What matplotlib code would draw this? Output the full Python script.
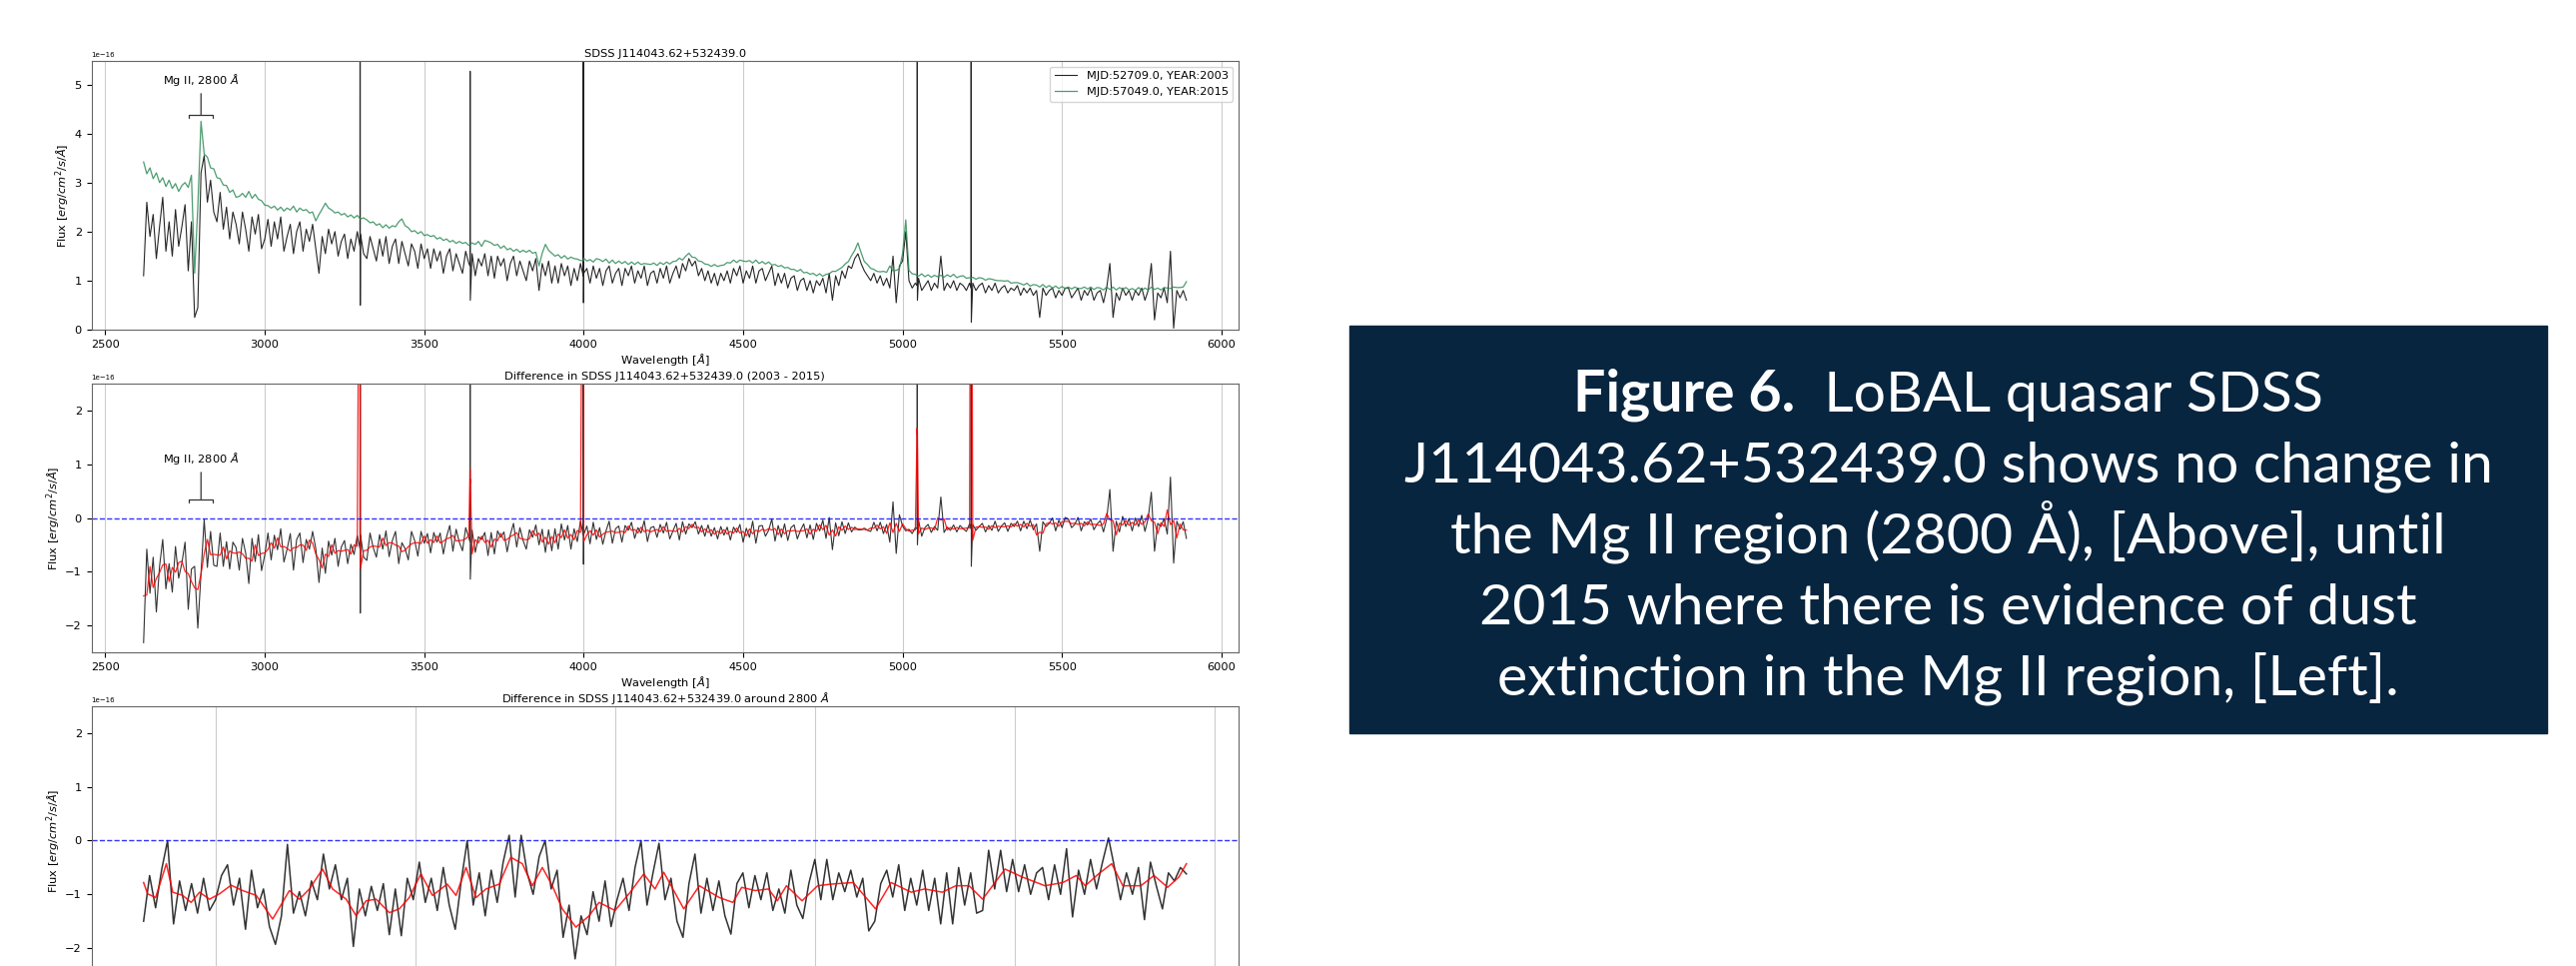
import numpy as np
import pandas as pd
import matplotlib
matplotlib.use("Agg")
import matplotlib.pyplot as plt
from matplotlib.patches import Rectangle

# Spectra of SDSS J114043.62+532439.0 (flux in 1e-16 erg/cm2/s/A)
# 10 A grid from 2620 to 5890 A
wave_grid = np.arange(2620, 5891, 10)

flux_2015 = [
    3.42, 3.18, 3.3, 3.08, 3.2, 3.0, 3.1, 2.92, 3.05, 2.88,
    2.98, 2.82, 2.94, 3.0, 2.9, 3.15, 1.15, 2.5, 4.25, 3.58,
    3.52, 3.3, 3.28, 3.1, 3.08, 2.95, 2.94, 2.8, 2.85, 2.7,
    2.72, 2.78, 2.7, 2.82, 2.68, 2.76, 2.66, 2.63, 2.54, 2.53,
    2.48, 2.52, 2.44, 2.5, 2.42, 2.48, 2.44, 2.52, 2.4, 2.48,
    2.43, 2.45, 2.38, 2.4, 2.22, 2.35, 2.46, 2.58, 2.48, 2.44,
    2.38, 2.4, 2.34, 2.37, 2.3, 2.34, 2.28, 2.33, 2.26, 2.28,
    2.24, 2.18, 2.2, 2.13, 2.16, 2.08, 2.14, 2.07, 2.12, 2.1,
    2.2, 2.26, 2.12, 2.08, 2.0, 2.02, 1.96, 2.0, 1.92, 1.94,
    1.9, 1.92, 1.85, 1.88, 1.82, 1.85, 1.79, 1.82, 1.76, 1.8,
    1.76, 1.78, 1.72, 1.77, 1.74, 1.8, 1.7, 1.82, 1.8, 1.77,
    1.72, 1.74, 1.66, 1.71, 1.63, 1.66, 1.6, 1.64, 1.58, 1.62,
    1.58, 1.62, 1.56, 1.58, 1.3, 1.56, 1.74, 1.62, 1.56, 1.5,
    1.53, 1.46, 1.51, 1.44, 1.48, 1.45, 1.44, 1.41, 1.46, 1.4,
    1.43, 1.38, 1.45, 1.43, 1.39, 1.44, 1.36, 1.42, 1.35, 1.4,
    1.35, 1.39, 1.33, 1.38, 1.33, 1.38, 1.33, 1.35, 1.34, 1.33,
    1.36, 1.31, 1.37, 1.33, 1.38, 1.34, 1.39, 1.4, 1.46, 1.42,
    1.5, 1.56, 1.48, 1.47, 1.4, 1.39, 1.34, 1.33, 1.29, 1.33,
    1.29, 1.31, 1.32, 1.37, 1.36, 1.42, 1.37, 1.42, 1.4, 1.39,
    1.41, 1.36, 1.42, 1.35, 1.39, 1.34, 1.38, 1.32, 1.33, 1.29,
    1.31, 1.26, 1.27, 1.23, 1.23, 1.19, 1.23, 1.16, 1.17, 1.13,
    1.15, 1.1, 1.14, 1.09, 1.13, 1.14, 1.19, 1.19, 1.23, 1.27,
    1.34, 1.39, 1.51, 1.62, 1.77, 1.57, 1.39, 1.33, 1.25, 1.23,
    1.19, 1.18, 1.19, 1.17, 1.3, 1.2, 1.21, 1.24, 1.55, 2.24,
    1.21, 1.14, 1.13, 1.09, 1.14, 1.08, 1.12, 1.07, 1.11, 1.08,
    1.11, 1.07, 1.12, 1.08, 1.13, 1.06, 1.09, 1.1, 1.05, 1.06,
    1.07, 1.03, 1.06, 1.05, 1.01, 1.04, 1.03, 1.01, 1.0, 1.0,
    0.99, 1.0, 0.95, 0.96, 0.96, 0.94, 0.91, 0.95, 0.89, 0.92,
    0.91, 0.87, 0.92, 0.86, 0.9, 0.85, 0.89, 0.84, 0.88, 0.84,
    0.87, 0.83, 0.87, 0.84, 0.84, 0.87, 0.83, 0.87, 0.82, 0.86,
    0.85, 0.81, 0.87, 0.82, 0.87, 0.81, 0.86, 0.82, 0.86, 0.81,
    0.84, 0.8, 0.86, 0.8, 0.85, 0.81, 0.87, 0.82, 0.85, 0.81,
    0.86, 0.85, 0.84, 0.87, 0.86, 0.86, 0.87, 0.98,
]

flux_2003 = [
    1.1, 2.6, 1.9, 2.35, 1.45, 2.1, 2.7, 1.6, 2.2, 1.5,
    2.45, 1.7, 2.1, 2.55, 1.2, 2.2, 0.25, 0.45, 3.2, 3.55,
    2.6, 3.05, 2.4, 2.2, 2.8, 2.05, 2.5, 1.85, 2.4, 2.15,
    1.75, 2.4, 2.05, 1.6, 2.3, 1.95, 2.35, 1.65, 1.85, 2.25,
    1.7, 2.2, 1.85, 2.3, 1.6, 1.9, 2.15, 1.55, 2.0, 2.2,
    1.6, 2.05, 1.8, 2.15, 1.65, 1.15, 1.9, 1.55, 2.05, 1.75,
    2.0, 1.5, 1.8, 1.95, 1.45, 1.85, 1.6, 2.0, 1.95, 1.55,
    1.45, 1.9, 1.65, 1.4, 1.85, 1.5, 1.9, 1.35, 1.7, 1.85,
    1.35, 1.8, 1.55, 1.3, 1.75, 1.6, 1.25, 1.75, 1.45, 1.65,
    1.25, 1.65, 1.4, 1.6, 1.15, 1.5, 1.65, 1.2, 1.55, 1.35,
    1.15, 1.6, 1.35, 1.55, 1.1, 1.45, 1.3, 1.55, 1.1, 1.5,
    1.05, 1.5, 1.3, 1.45, 1.0, 1.35, 1.5, 1.1, 1.4, 1.2,
    1.0, 1.4, 1.2, 1.45, 0.8, 1.35, 1.1, 1.4, 0.95, 1.3,
    0.95, 1.35, 1.1, 1.3, 0.9, 1.25, 1.0, 1.35, 1.15, 1.25,
    0.95, 1.3, 1.05, 1.25, 0.9, 1.2, 1.3, 0.95, 1.15, 1.25,
    0.9, 1.25, 1.1, 1.3, 0.95, 1.2, 1.05, 1.3, 0.9, 1.15,
    1.2, 0.95, 1.25, 1.05, 1.3, 0.95, 1.15, 1.3, 1.05, 1.35,
    1.2, 1.45, 1.3, 1.4, 1.1, 1.25, 1.0, 1.2, 0.95, 1.15,
    0.9, 1.15, 1.0, 1.2, 0.95, 1.25, 1.1, 1.3, 0.95, 1.2,
    1.05, 1.3, 0.95, 1.2, 1.25, 1.0, 1.15, 1.3, 0.9, 1.15,
    0.95, 1.15, 0.85, 1.05, 1.1, 0.8, 1.0, 1.05, 0.8, 1.0,
    0.75, 1.0, 0.9, 1.05, 0.75, 1.15, 0.6, 1.1, 0.9, 1.2,
    1.05, 1.3, 1.25, 1.45, 1.55, 1.35, 1.2, 1.1, 1.0, 1.15,
    0.95, 1.1, 0.9, 1.05, 0.85, 1.5, 0.55, 1.3, 1.4, 2.0,
    1.0, 0.85, 0.95, 1.05, 0.8, 0.9, 1.0, 0.8, 0.95, 0.85,
    1.5, 0.8, 0.95, 0.85, 1.0, 0.8, 0.95, 0.9, 0.8, 0.95,
    0.95, 0.8, 0.9, 0.95, 0.75, 0.9, 0.8, 0.95, 0.75, 0.85,
    0.9, 0.75, 0.85, 0.8, 0.9, 0.7, 0.85, 0.75, 0.85, 0.7,
    0.8, 0.25, 0.85, 0.7, 0.8, 0.85, 0.65, 0.8, 0.7, 0.85,
    0.85, 0.65, 0.75, 0.85, 0.6, 0.8, 0.7, 0.85, 0.6, 0.75,
    0.8, 0.55, 0.85, 1.35, 0.25, 0.75, 0.6, 0.85, 0.7, 0.8,
    0.6, 0.8, 0.7, 0.85, 0.6, 0.8, 1.35, 0.2, 0.75, 0.65,
    0.85, 0.55, 1.6, 0.03, 0.8, 0.65, 0.8, 0.6,
]

# sky-line residuals in the 2003 spectrum (base, peak, dip)
sky_wave = [3298.5, 3299, 3299.5, 3643.5, 3644, 3644.5, 3998.5, 3999, 3999.5,
            5045.5, 5046, 5046.5, 5214.5, 5215, 5215.5]
sky_2003 = [1.7, 30.0, 0.5, 1.3, 5.27, 0.6, 1.1, 30.0, 0.55,
            0.9, 6.5, 0.6, 0.85, 30.0, 0.15]
sky_2015 = [2.27, 2.27, 2.27, 1.74, 1.74, 1.74, 1.41, 1.41, 1.41,
            1.1, 1.1, 1.1, 1.05, 1.05, 1.05]

# difference (2003 - 2015) around Mg II, 1.5 A grid from 2682 to 2943 A
wave_mg = np.arange(2682, 2943.1, 1.5)
diff_mg = [
    -1.5, -0.65, -1.25, -0.55, 0.0, -1.55, -0.75, -1.3, -0.8, -1.35,
    -0.7, -1.3, -1.1, -0.65, -0.45, -1.2, -0.7, -1.65, -0.55, -1.25,
    -0.9, -1.6, -1.93, -1.4, -0.07, -1.35, -0.95, -1.4, -0.75, -1.1,
    -0.25, -0.9, -0.45, -1.1, -0.7, -1.97, -0.9, -1.4, -0.85, -1.3,
    -0.8, -1.75, -0.9, -1.77, -0.7, -1.1, -0.4, -1.15, -0.7, -1.3,
    -0.5, -1.2, -1.65, -0.75, 0.0, -1.2, -0.6, -1.4, -0.55, -1.15,
    -0.4, 0.1, -1.05, 0.1, -0.6, -1.0, -0.3, 0.0, -0.9, -0.55,
    -1.8, -1.2, -2.2, -1.4, -1.75, -0.95, -1.5, -0.75, -1.6, -1.1,
    -0.7, -1.3, -0.5, 0.0, -1.2, -0.6, -0.05, -1.1, -0.7, -1.5,
    -1.8, -0.8, -0.25, -1.35, -0.7, -1.3, -0.75, -1.4, -1.74, -0.8,
    -0.6, -1.25, -0.65, -1.1, -0.6, -1.3, -0.9, -1.35, -0.55, -1.2,
    -1.45, -0.8, -0.35, -1.1, -0.35, -1.1, -0.6, -0.95, -0.55, -1.05,
    -0.7, -1.68, -1.5, -0.8, -0.55, -1.05, -0.45, -1.3, -0.7, -1.2,
    -0.55, -1.3, -0.7, -1.55, -0.6, -1.55, -0.5, -1.2, -0.6, -1.35,
    -1.3, -0.18, -0.9, -0.18, -0.95, -0.35, -0.95, -0.45, -1.0, -0.6,
    -0.5, -1.1, -0.45, -1.0, -0.15, -1.42, -0.55, -1.0, -0.35, -0.9,
    -0.4, 0.05, -0.5, -1.1, -0.6, -1.0, -0.5, -1.47, -0.4, -0.85,
    -1.27, -0.6, -0.75, -0.5, -0.62,
]

# smoothed difference around Mg II
smooth_mg_wave = [2682, 2683, 2685, 2687.7, 2689.3, 2691.8, 2693.9, 2696, 2698.5, 2701,
                  2703.9, 2706.8, 2710.2, 2714.3, 2718.5, 2721, 2723.5, 2726.8, 2729.3, 2732.7,
                  2735.2, 2737.7, 2740.2, 2743.5, 2746, 2748.5, 2751.4, 2754.3, 2758, 2760.2,
                  2762.7, 2765.2, 2767.7, 2771, 2773.9, 2776.8, 2779.3, 2781.8, 2784.3, 2786.8,
                  2790.2, 2793.5, 2796, 2800, 2803.8, 2807.2, 2810, 2812.2, 2817.2, 2821.1,
                  2826.1, 2829.5, 2831.7, 2835.1, 2838.4, 2840.6, 2842.9, 2846.8, 2850.7, 2854,
                  2859.6, 2865.2, 2869.1, 2874.1, 2877.5, 2881.9, 2885.3, 2888.6, 2892, 2897.6,
                  2902, 2907.6, 2912.1, 2915.4, 2917.7, 2921, 2924.3, 2927.1, 2931.6, 2934.9,
                  2938.3, 2941.1, 2943]
smooth_mg = [-0.78, -0.99, -1.06, -0.43, -0.96, -1.02, -1.15, -0.96, -1.09, -0.99,
             -0.83, -0.93, -1.02, -1.46, -0.93, -1.09, -0.90, -0.53, -0.90, -1.09,
             -1.40, -1.12, -1.09, -1.34, -1.27, -1.06, -0.62, -1.02, -0.81, -1.02,
             -0.50, -1.06, -0.90, -0.81, -0.31, -0.43, -0.84, -0.50, -0.84, -1.27,
             -1.61, -1.40, -1.15, -1.30, -0.96, -0.62, -0.90, -0.59, -1.27, -0.84,
             -1.06, -1.15, -0.87, -0.93, -0.90, -1.12, -0.84, -1.12, -0.84, -0.81,
             -0.78, -1.27, -0.78, -0.96, -0.90, -0.96, -0.84, -0.84, -1.09, -0.53,
             -0.68, -0.84, -0.78, -0.65, -0.84, -0.62, -0.43, -0.84, -0.84, -0.65,
             -0.87, -0.68, -0.43]

caption = ["J114043.62+532439.0 shows no change in",
           "the Mg II region (2800 Å), [Above], until",
           "2015 where there is evidence of dust",
           "extinction in the Mg II region, [Left]."]

# merge grid and sky-line points
wave = np.concatenate([wave_grid, sky_wave])
order = np.argsort(wave, kind="stable")
wave = wave[order]
f03 = np.concatenate([flux_2003, sky_2003])[order] * 1e-16
f15 = np.concatenate([flux_2015, sky_2015])[order] * 1e-16
diff = f03 - f15
diff_smooth = pd.Series(diff).rolling(3, center=True, min_periods=1).mean().values

plt.rcParams["font.size"] = 8.2
plt.rcParams["axes.edgecolor"] = "#666666"
plt.rcParams["axes.titlepad"] = 3
plt.rcParams["axes.labelpad"] = 1.5

fig = plt.figure(figsize=(25.79, 9.67), dpi=100)

ylab = r"Flux [$erg/cm^2/s/\AA$]"
xlab = r"Wavelength [$\AA$]"
green = "#2e8b57"
bracket = dict(arrowstyle="-[, widthB=1.05, lengthB=0.3", lw=0.9, color="#333333")

# spectra
ax1 = fig.add_axes([0.0355, 0.6587, 0.4453, 0.2782])
ax1.plot(wave, f03, color="k", lw=0.8, alpha=0.85, label="MJD:52709.0, YEAR:2003")
ax1.plot(wave, f15, color=green, lw=0.9, alpha=0.85, label="MJD:57049.0, YEAR:2015")
ax1.set_ylim(0, 5.48e-16)
ax1.set_title("SDSS J114043.62+532439.0", fontsize=8.2)
ax1.set_xlabel(xlab)
ax1.set_ylabel(ylab)
ax1.legend(loc="upper right")
ax1.annotate(r"Mg II, 2800 $\AA$", xy=(2800, 4.33e-16), xytext=(2800, 5.09e-16),
             ha="center", va="center", arrowprops=bracket)

# difference
ax2 = fig.add_axes([0.0355, 0.3247, 0.4453, 0.2782])
ax2.plot(wave, diff, color="k", lw=0.8, alpha=0.8)
ax2.plot(wave, diff_smooth, color="red", lw=0.9, alpha=0.85)
ax2.axhline(0, color="b", ls="--", lw=1.0, alpha=0.8)
ax2.set_ylim(-2.5e-16, 2.5e-16)
ax2.set_title("Difference in SDSS J114043.62+532439.0 (2003 - 2015)", fontsize=8.2)
ax2.set_xlabel(xlab)
ax2.set_ylabel(ylab)
ax2.annotate(r"Mg II, 2800 $\AA$", xy=(2800, 0.3e-16), xytext=(2800, 1.1e-16),
             ha="center", va="center", arrowprops=bracket)

# difference around Mg II (bottom of this panel is cropped away)
ax3 = fig.add_axes([0.0355, -0.0093, 0.4453, 0.2782])
ax3.plot(wave_mg, np.array(diff_mg) * 1e-16, color="k", lw=1.1, alpha=0.8)
ax3.plot(smooth_mg_wave, np.array(smooth_mg) * 1e-16, color="red", lw=1.1, alpha=0.85)
ax3.axhline(0, color="b", ls="--", lw=1.0, alpha=0.8)
ax3.set_ylim(-2.5e-16, 2.5e-16)
ax3.set_title(r"Difference in SDSS J114043.62+532439.0 around 2800 $\AA$", fontsize=8.2)
ax3.set_ylabel(ylab)
ax3.tick_params(axis="x", labelbottom=False)

for ax in (ax1, ax2, ax3):
    ax.xaxis.grid(True, color="#cccccc", lw=0.8)
    ax.yaxis.get_offset_text().set_fontsize(5)

# caption box
fig.patches.append(Rectangle((1351 / 2579, 1 - 734 / 967), 1199 / 2579, 408 / 967,
                             transform=fig.transFigure, color="#07253f", zorder=0))

fig.canvas.draw()
r = fig.canvas.get_renderer()
cap_font = "Lato"
tmp = fig.text(0, 0, caption[0], fontsize=40, family=cap_font)
cap_size = 40 * 1089 / tmp.get_window_extent(r).width
tmp.remove()

W, H = 2579.0, 967.0
cx = 1950.5
baselines = [411.7, 482.7, 553.3, 625.0, 695.0]

t_bold = fig.text(0, 1 - baselines[0] / H, "Figure 6.", fontsize=cap_size, family=cap_font,
                  weight="bold", color="white", va="baseline", ha="left")
t_rest = fig.text(0, 1 - baselines[0] / H, "  LoBAL quasar SDSS", fontsize=cap_size,
                  family=cap_font, color="white", va="baseline", ha="left")
wb = t_bold.get_window_extent(r).width
wr = t_rest.get_window_extent(r).width
x0 = cx - (wb + wr) / 2
t_bold.set_x(x0 / W)
t_rest.set_x((x0 + wb) / W)

for line, b in zip(caption, baselines[1:]):
    fig.text(cx / W, 1 - b / H, line, fontsize=cap_size, family=cap_font,
             color="white", va="baseline", ha="center")

fig.savefig("out.png", dpi=100)
